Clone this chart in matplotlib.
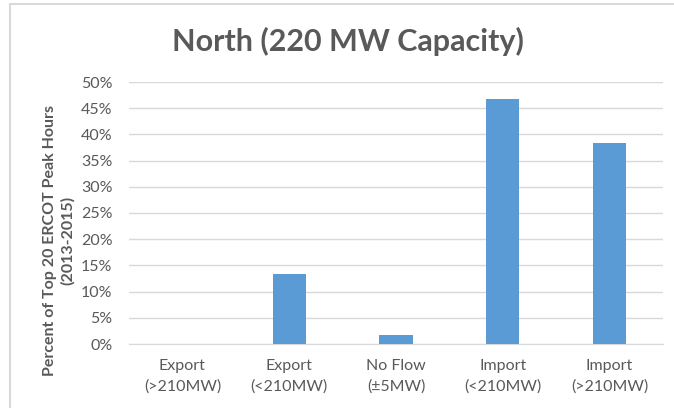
import numpy as np
import matplotlib.pyplot as plt
from matplotlib.patches import Rectangle
from matplotlib.ticker import PercentFormatter

categories = ["Export\n(>210MW)", "Export\n(<210MW)", "No Flow\n(\u00b15MW)",
              "Import\n(<210MW)", "Import\n(>210MW)"]
hours = [0, 8, 1, 28, 23]          # peak hours in each flow bin
total_hours = 60                   # top 20 hours x 3 years
share = [h / total_hours for h in hours]

plt.rcParams['font.family'] = ['Lato', 'DejaVu Sans']
grey = '#595959'

fig = plt.figure(figsize=(6.74, 4.08), dpi=100)
ax = fig.add_axes([129 / 674, 1 - 344 / 408, 534 / 674, 262 / 408])

x = np.arange(len(categories))
ax.bar(x, share, width=0.31, color='#5B9BD5', zorder=3)

ax.set_xlim(-0.5, len(categories) - 0.5)
ax.set_ylim(0, 0.5)
ax.set_yticks(np.arange(0, 0.51, 0.05))
ax.yaxis.set_major_formatter(PercentFormatter(1.0, decimals=0))
ax.set_xticks(x)
ax.set_xticklabels(categories, linespacing=1.5)
ax.tick_params(axis='both', length=0, labelsize=11.5, colors=grey)
ax.tick_params(axis='x', pad=11)
ax.tick_params(axis='y', pad=12)
ax.grid(axis='y', color='#d9d9d9', linewidth=1, zorder=0)
for s in ['top', 'right', 'left']:
    ax.spines[s].set_visible(False)
ax.spines['bottom'].set_color('#d9d9d9')

ax.set_ylabel("Percent of Top 20 ERCOT Peak Hours\n(2013-2015)",
              fontsize=11.5, fontweight='bold', color=grey, linespacing=1.3)
ax.yaxis.set_label_coords(-0.102, 0.395)

fig.text(348 / 674, 1 - 41 / 408, "North (220 MW Capacity)", ha='center',
         va='center', fontsize=22, fontweight='bold', color=grey)

# light frame around the chart area
fig.patches.append(Rectangle((10 / 674, -0.05), 1.0, 1.05 - 4 / 408,
                             transform=fig.transFigure, fill=False,
                             edgecolor='#d9d9d9', linewidth=1.5))

fig.savefig('out.png', dpi=100)
